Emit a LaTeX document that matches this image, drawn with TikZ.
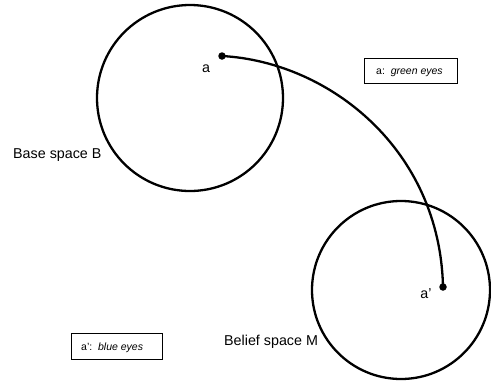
\documentclass[tikz,border=0pt]{standalone}
\usepackage{fontspec}
\setmainfont{Liberation Sans}
\begin{document}
\begin{tikzpicture}[x=1pt,y=-1pt,
  space/.style={draw,circle,line width=2.3pt,inner sep=0pt},
  pt/.style={fill,circle,inner sep=0pt,minimum size=7.5pt},
  lbl/.style={font=\fontsize{14.3}{17}\selectfont,inner sep=0pt},
  tagtext/.style={anchor=base west,inner sep=0pt,font=\fontsize{10.5}{12}\selectfont},
  tag/.style={draw,line width=1pt,inner sep=0pt,anchor=north west},
  link/.style={line width=2.3pt}]
  \useasboundingbox (0,0) rectangle (491,381);
  % the two spaces
  \node[space,minimum size=186pt] (B) at (190,98) {};
  \node[space,minimum size=178pt] (M) at (401,290) {};
  \node[lbl,anchor=base west] (Blbl) at (13,158) {Base space B};
  \node[lbl,anchor=base west] (Mlbl) at (224,345) {Belief space M};
  % the element and its counterpart
  \node[pt] (a) at (222,56) {};
  \node[pt] (a2) at (443,287) {};
  \node[lbl,anchor=base] (alab) at (206,72) {a};
  \node[lbl,anchor=base] (a2lab) at (426,298) {a'};
  \draw[link] (a.center) .. controls (330,62) and (440,150) .. (a2.center);
  % property tags
  \node[tag,minimum width=93pt,minimum height=25pt] (g) at (364,58) {};
  \node[tagtext] (gt) at (376,74) {a:\ \ \textit{green eyes}};
  \node[tag,minimum width=91pt,minimum height=26pt] (b) at (71,333) {};
  \node[tagtext] (bt) at (81,350) {a':\ \ \textit{blue eyes}};
\end{tikzpicture}
\end{document}
